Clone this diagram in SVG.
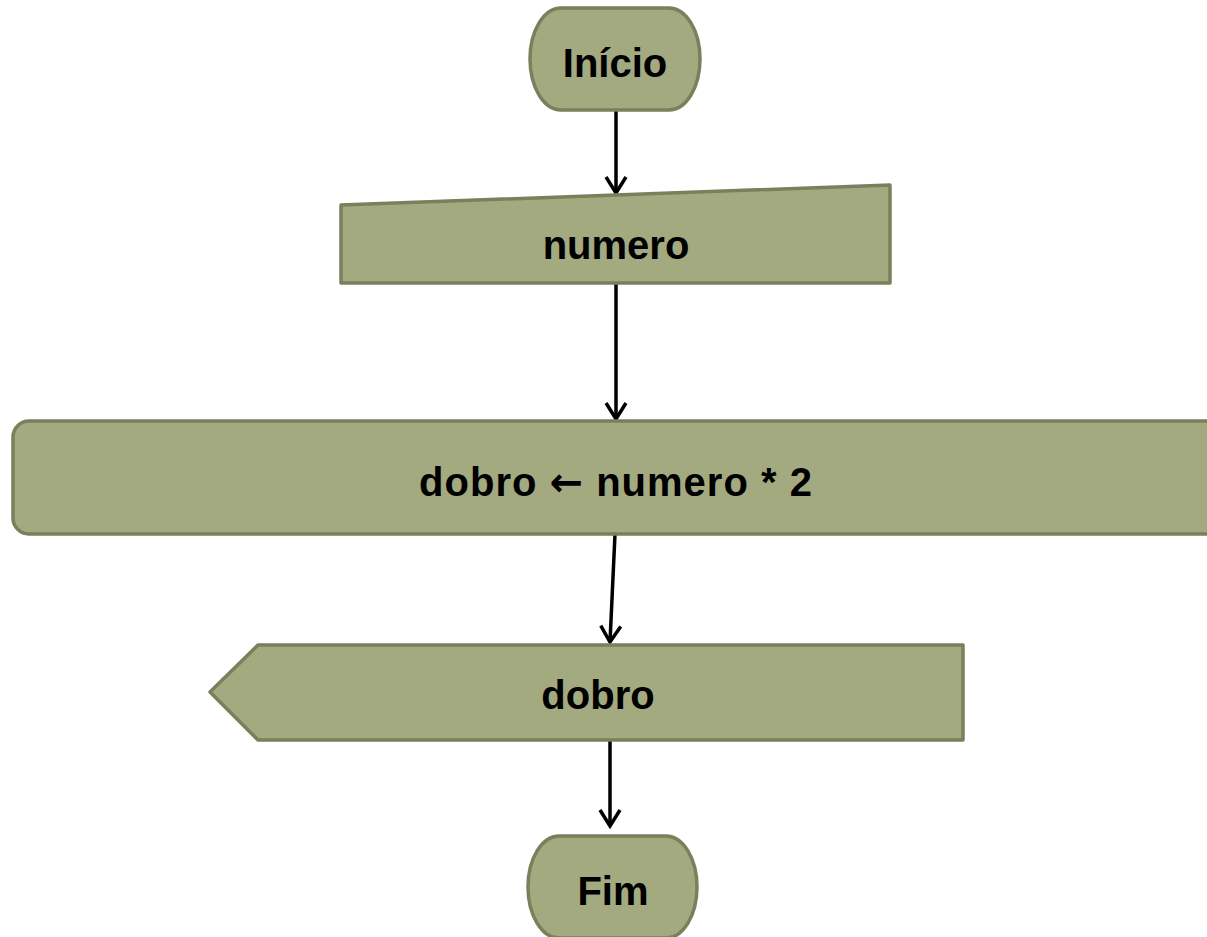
<svg xmlns="http://www.w3.org/2000/svg" width="1207" height="937" viewBox="0 0 1207 937">
<style>
.shape{fill:#A3AA80;stroke:#7A7F5C;stroke-width:3.5;stroke-linejoin:round}
.lbl{font-family:"Liberation Sans",Arial,sans-serif;font-weight:bold;font-size:40px;fill:#000;text-anchor:middle}
.sym{font-family:"DejaVu Sans",sans-serif}
.conn{stroke:#000;stroke-width:3.5;fill:none}
</style>
<defs>
<marker id="arr" viewBox="0 0 24 24" refX="21" refY="12" markerWidth="24" markerHeight="24" markerUnits="userSpaceOnUse" orient="auto">
<path d="M5,2 L21,12 L5,22" fill="none" stroke="#000" stroke-width="3.5"/>
</marker>
</defs>
<g id="connectors">
<line class="conn" x1="616" y1="110" x2="616" y2="193" marker-end="url(#arr)"/>
<line class="conn" x1="616" y1="283" x2="616" y2="419" marker-end="url(#arr)"/>
<line class="conn" x1="615" y1="534" x2="610" y2="642" marker-end="url(#arr)"/>
<line class="conn" x1="610" y1="740" x2="610" y2="826" marker-end="url(#arr)"/>
</g>
<g id="inicio">
<path class="shape" d="M561,8 H669 A31,51 0 0 1 669,110 H561 A31,51 0 0 1 561,8 Z"/>
<text class="lbl" x="615" y="77">Início</text>
</g>
<g id="entrada">
<path class="shape" d="M341,205 L890,185 L890,283 L341,283 Z"/>
<text class="lbl" x="616" y="259">numero</text>
</g>
<g id="processo">
<rect class="shape" x="13" y="421" width="1210" height="113" rx="16" ry="16"/>
<text class="lbl" x="616" y="496" letter-spacing="1">dobro <tspan class="sym">←</tspan> numero * 2</text>
</g>
<g id="saida">
<path class="shape" d="M210,692 L258,645 L963,645 L963,740 L258,740 Z"/>
<text class="lbl" x="598" y="709">dobro</text>
</g>
<g id="fim">
<path class="shape" d="M559,836 H666 A31,51 0 0 1 666,938 H559 A31,51 0 0 1 559,836 Z"/>
<text class="lbl" x="613" y="905">Fim</text>
</g>
</svg>
